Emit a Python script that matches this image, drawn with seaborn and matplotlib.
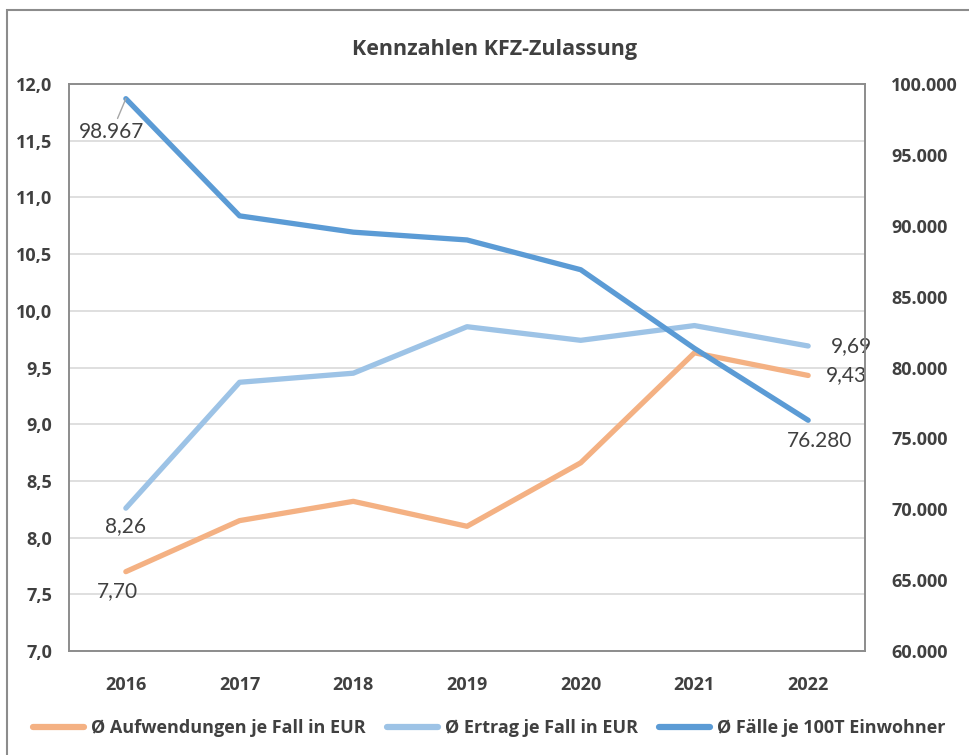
import matplotlib.pyplot as plt
import matplotlib.ticker as mticker
import numpy as np
import pandas as pd
import seaborn as sns

#-Data
years = ["2016", "2017", "2018", "2019", "2020", "2021", "2022"]
aufwendungen = [7.70, 8.15, 8.32, 8.10, 8.66, 9.63, 9.43]
ertrag = [8.26, 9.37, 9.45, 9.86, 9.74, 9.87, 9.69]
faelle = [98967, 90700, 89550, 89000, 86900, 81350, 76280]

names = ["Ø Aufwendungen je Fall in EUR", "Ø Ertrag je Fall in EUR", "Ø Fälle je 100T Einwohner"]
colors = ["#F4B183", "#9DC3E6", "#5B9BD5"]

df = pd.DataFrame({"Jahr": years, "auf": aufwendungen, "ert": ertrag, "fae": faelle})
df["x"] = np.arange(len(years))

sns.set_style("white")
plt.rcParams['font.family'] = ['Lato', 'DejaVu Sans']
bold_font = ['Open Sans', 'DejaVu Sans']

fig = plt.figure(figsize=(9.69, 7.55), dpi=100)
ax = fig.add_axes([0.0712, 0.1377, 0.8215, 0.751])
ax2 = ax.twinx()

lw = 3.8
sns.lineplot(data=df, x="x", y="auf", ax=ax, color=colors[0], lw=lw, solid_capstyle="round")
sns.lineplot(data=df, x="x", y="ert", ax=ax, color=colors[1], lw=lw, solid_capstyle="round")
sns.lineplot(data=df, x="x", y="fae", ax=ax2, color=colors[2], lw=lw, solid_capstyle="round")

ax.set_xlim(-0.5, len(years) - 0.5)
ax.set_ylim(7.0, 12.0)
ax2.set_ylim(60000, 100000)
ax.set_yticks(np.arange(7.0, 12.01, 0.5))
ax2.set_yticks(np.arange(60000, 100001, 5000))
ax.yaxis.set_major_formatter(mticker.FuncFormatter(lambda v, p: f"{v:.1f}".replace(".", ",")))
ax2.yaxis.set_major_formatter(mticker.FuncFormatter(lambda v, p: f"{int(v):,}".replace(",", ".")))
ax.set_xticks(df["x"])
ax.set_xticklabels(years)

ax.grid(axis="y", color="#D9D9D9", lw=1.2)
ax.set_axisbelow(True)
ax.set_xlabel("")
ax.set_ylabel("")
ax2.set_ylabel("")

for a in (ax, ax2):
    for s in a.spines.values():
        s.set_color("#8C8C8C")
        s.set_linewidth(1.2)
    a.tick_params(length=0, labelsize=13, colors="#404040")
    for lab in a.get_yticklabels() + a.get_xticklabels():
        lab.set_fontweight("bold")
        lab.set_family(bold_font)
ax.tick_params(axis="y", pad=12)
ax.tick_params(axis="x", pad=18)
ax2.tick_params(axis="y", pad=19)

lab_kw = dict(fontsize=15, color="#404040")
# data labels at first and last point
ax.annotate(f"{aufwendungen[0]:.2f}".replace(".", ","), (0, aufwendungen[0]), xytext=(-6, -21),
            textcoords="offset points", ha="center", va="bottom", **lab_kw)
ax.annotate(f"{ertrag[0]:.2f}".replace(".", ","), (0, ertrag[0]), xytext=(0, -20),
            textcoords="offset points", ha="center", va="bottom", **lab_kw)
ax.annotate(f"{aufwendungen[-1]:.2f}".replace(".", ","), (6, aufwendungen[-1]), xytext=(13, 0),
            textcoords="offset points", ha="left", va="center", **lab_kw)
ax.annotate(f"{ertrag[-1]:.2f}".replace(".", ","), (6, ertrag[-1]), xytext=(16, 0),
            textcoords="offset points", ha="left", va="center", **lab_kw)
ax2.annotate(f"{faelle[-1]:,}".replace(",", "."), (6, faelle[-1]), xytext=(8, -22),
             textcoords="offset points", ha="center", va="bottom", **lab_kw)
ax2.annotate(f"{faelle[0]:,}".replace(",", "."), (0, faelle[0]), xytext=(-10, -31),
             textcoords="offset points", ha="center", va="bottom",
             arrowprops=dict(arrowstyle="-", color="#A6A6A6", lw=1, shrinkA=0, shrinkB=0), **lab_kw)

fig.text(0.51, 0.935, "Kennzahlen KFZ-Zulassung", ha="center", va="center",
         fontsize=15.5, fontweight="bold", color="#404040", family=bold_font)

handles = [plt.Line2D([], [], color=c, lw=4.5, solid_capstyle="round") for c in colors]
fig.legend(handles, names, loc="center", bbox_to_anchor=(0.505, 0.036), ncol=3, frameon=False,
           handlelength=2.8, columnspacing=1.2, handletextpad=0.4,
           prop={"weight": "bold", "size": 13, "family": bold_font})
for t in fig.legends[0].get_texts():
    t.set_color("#404040")

# outer chart frame
fig.patches.append(plt.Rectangle((0.007, -0.01), 1.2, 0.997, transform=fig.transFigure,
                                 fill=False, edgecolor="#8C8C8C", lw=1.5))

fig.savefig("out.png", dpi=100)
